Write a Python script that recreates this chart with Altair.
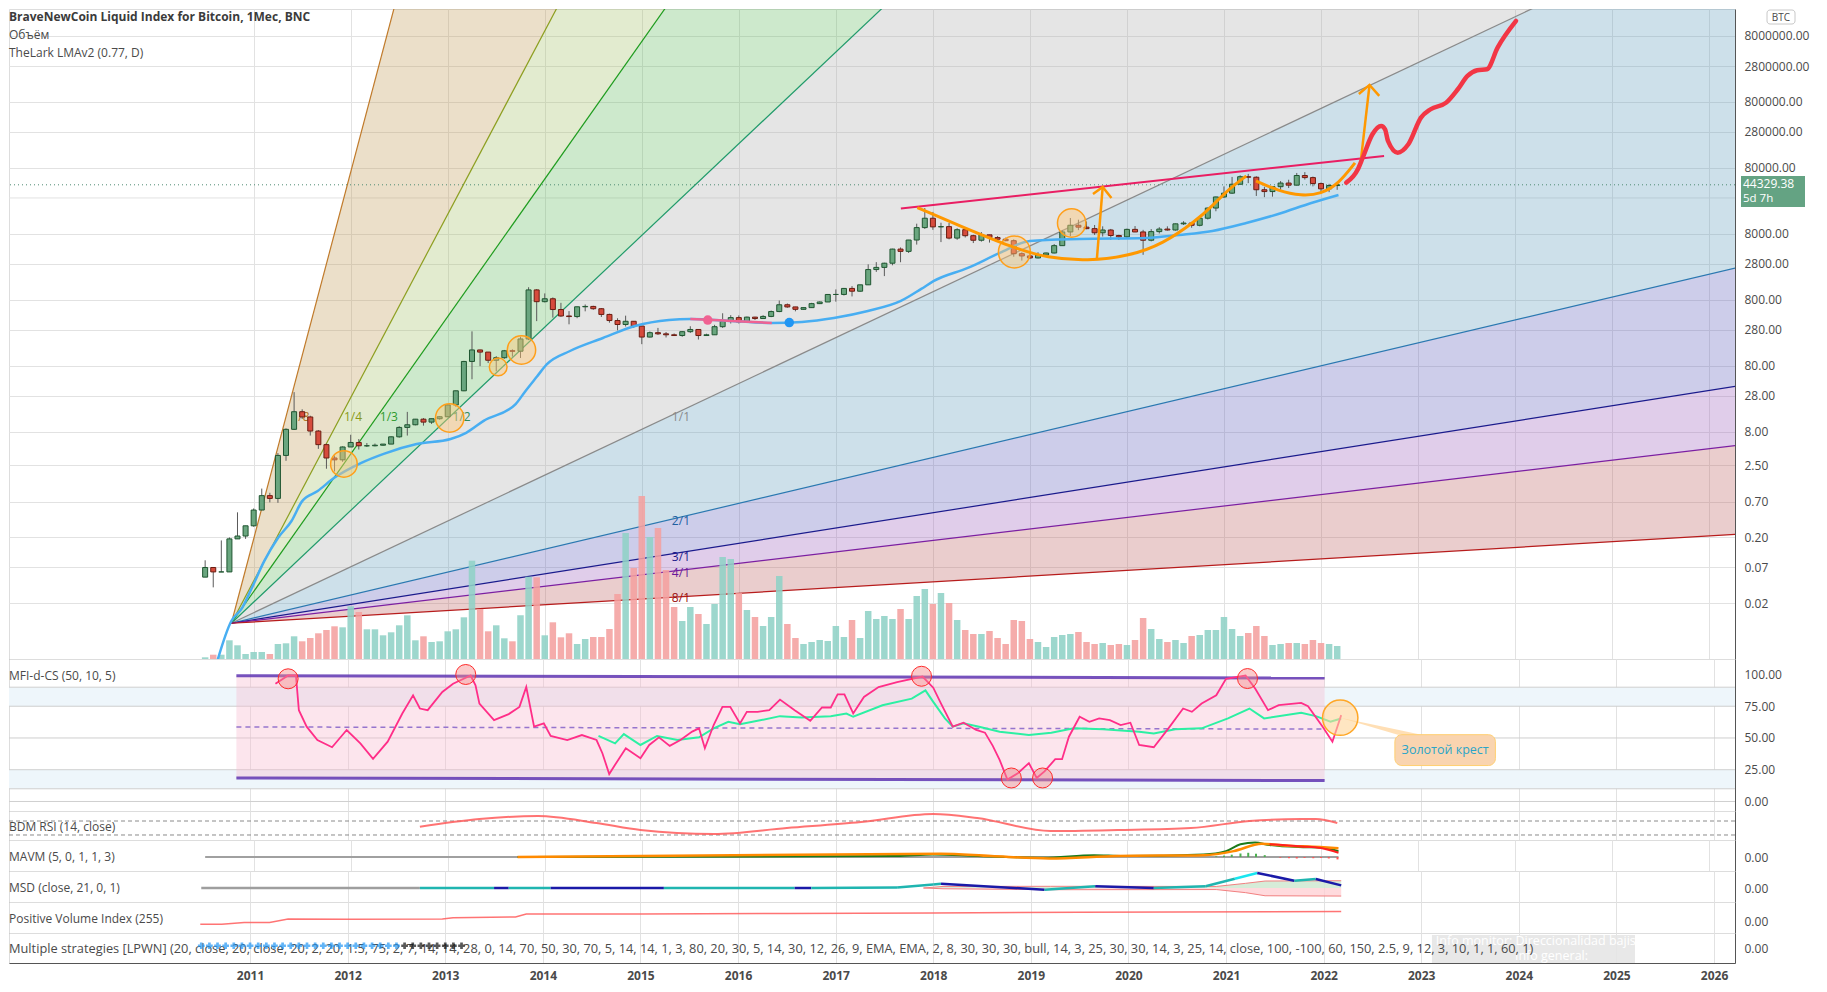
import numpy as np
import pandas as pd
import altair as alt

FONT = "Open Sans"
TXT = "#4a4a4a"
GRID = "#e2e2e2"
SEP = "#555555"
W = 1726
H_MAIN, H_MFI, H_BDM, H_MAVM, H_MSD, H_PVI, H_MS = 650, 152, 29, 31, 31, 31, 30
X_DOM = [2008.53, 2026.215]
YEARS = list(range(2011, 2027))
PRICE_DOM = [0.00287, 2.05e7]
PRICE_TICKS = [8000000, 2800000, 800000, 280000, 80000, 8000, 2800, 800,
               280, 80, 28, 8, 2.5, 0.7, 0.2, 0.07, 0.02]
HIDDEN_TICK = [28000]
LAST_PRICE = 44329.38

# ---------------- monthly candles, Jul 2010 .. Mar 2022 ----------------
c_open = [0.05, 0.07, 0.06, 0.06, 0.19, 0.21,
          0.30, 0.52, 0.86, 0.78, 3.5, 8.7, 16.1, 13.4, 8.2, 5.1, 3.2, 3.0,
          4.7, 5.5, 4.9, 4.9, 5.0, 5.2, 6.7, 9.3, 10.2, 12.4, 11.2, 12.6,
          13.5, 20.4, 33.4, 93, 139, 129, 97, 106, 135, 133, 204, 1130,
          750, 830, 570, 455, 446, 627, 635, 586, 480, 388, 338, 378,
          320, 218, 254, 244, 236, 230, 263, 284, 230, 236, 313, 378,
          430, 369, 437, 416, 448, 531, 673, 624, 574, 609, 700, 742,
          964, 965, 1190, 1080, 1350, 2300, 2480, 2870, 4700, 4340, 6450, 9950,
          13800, 10200, 10300, 6900, 9250, 7500, 6400, 7730, 7030, 6630, 6300, 4000,
          3700, 3450, 3820, 4100, 5300, 8550, 10800, 10100, 9600, 8300, 9150, 7550,
          7200, 9350, 8550, 6400, 8650, 9450, 9150, 11350, 11650, 10780, 13800, 19700,
          29000, 33100, 45200, 58800, 57700, 37300, 35000, 41500, 47100, 43800, 61300, 57000,
          46300, 38500, 43200]
c_high = [0.09, 0.07, 0.18, 0.20, 0.48, 0.30,
          0.55, 1.10, 0.95, 3.8, 9.0, 31.9, 17.5, 14.0, 8.5, 5.3, 3.5, 4.8,
          7.2, 6.2, 5.4, 5.3, 5.2, 6.8, 9.7, 16.0, 12.5, 12.9, 12.6, 13.8,
          21.0, 33.6, 95, 266, 140, 129.5, 112, 139, 142, 220, 1242, 1163,
          1000, 870, 720, 540, 630, 680, 650, 600, 493, 420, 460, 382,
          320, 265, 300, 260, 247, 268, 318, 285, 245, 334, 500, 468,
          464, 445, 442, 467, 550, 780, 704, 626, 610, 720, 755, 980,
          1150, 1210, 1290, 1350, 2760, 2980, 2920, 4760, 4980, 6470, 11400, 19700,
          17200, 11800, 11700, 9750, 9950, 7750, 8500, 7750, 7400, 7000, 6600, 4200,
          4100, 4200, 4150, 5600, 9100, 13900, 13100, 12300, 10900, 10400, 9500, 7750,
          9600, 10500, 9200, 9450, 10100, 10400, 11450, 12450, 12100, 14100, 19900, 29300,
          41900, 58300, 61700, 64900, 59600, 41300, 42200, 50500, 52900, 67000, 69000, 59100,
          48000, 45800, 45000]
c_low = [0.05, 0.035, 0.06, 0.06, 0.19, 0.19,
         0.29, 0.52, 0.68, 0.67, 2.9, 8.5, 12.5, 7.0, 4.4, 2.2, 2.0, 2.8,
         4.7, 4.3, 4.7, 4.8, 4.9, 5.2, 6.5, 7.0, 10.0, 9.9, 10.5, 12.2,
         13.3, 19.1, 33, 50, 79, 88, 66, 102, 110, 105, 196, 380,
         730, 430, 440, 340, 421, 535, 564, 440, 360, 275, 315, 300,
         170, 215, 235, 215, 226, 220, 252, 200, 226, 236, 300, 350,
         350, 366, 396, 414, 436, 520, 606, 535, 570, 604, 690, 740,
         750, 930, 900, 1060, 1340, 2120, 1830, 2670, 2970, 4100, 5500, 9500,
         9200, 6000, 6600, 6500, 7050, 5800, 6100, 5900, 6100, 6200, 3600, 3150,
         3350, 3400, 3700, 4050, 5300, 7400, 9100, 9400, 7700, 7300, 6500, 6450,
         6900, 8500, 3850, 6150, 8100, 8950, 8950, 10900, 9900, 10400, 13200, 17600,
         28100, 32300, 45000, 47000, 30000, 28800, 29300, 37300, 39600, 43300, 53300, 42000,
         32900, 34300, 37200]
c_close = [0.07, 0.06, 0.06, 0.19, 0.21, 0.30,
           0.52, 0.86, 0.78, 3.5, 8.7, 16.1, 13.4, 8.2, 5.1, 3.2, 3.0, 4.7,
           5.5, 4.9, 4.9, 5.0, 5.2, 6.7, 9.3, 10.2, 12.4, 11.2, 12.6, 13.5,
           20.4, 33.4, 93, 139, 129, 97, 106, 135, 133, 204, 1130, 750,
           830, 570, 455, 446, 627, 635, 586, 480, 388, 338, 378, 320,
           218, 254, 244, 236, 230, 263, 284, 230, 236, 313, 378, 430,
           369, 437, 416, 448, 531, 673, 624, 574, 609, 700, 742, 964,
           965, 1190, 1080, 1350, 2300, 2480, 2870, 4700, 4340, 6450, 9950, 13800,
           10200, 10300, 6900, 9250, 7500, 6400, 7730, 7030, 6630, 6300, 4000, 3700,
           3450, 3820, 4100, 5300, 8550, 10800, 10100, 9600, 8300, 9150, 7550, 7200,
           9350, 8550, 6400, 8650, 9450, 9150, 11350, 11650, 10780, 13800, 19700, 29000,
           33100, 45200, 58800, 57700, 37300, 35000, 41500, 47100, 43800, 61300, 57000, 46300,
           38500, 43200, 44329.38]
# relative volume
volume = [1.7, 4.3, 4.3, 18.7, 13.7, 5,
          7, 7, 5, 15, 15.7, 22.7, 17.7, 21, 25.7, 29, 32.7, 31.7,
          52.7, 47, 29.7, 29.7, 23.7, 26.7, 33.7, 43.7, 18.7, 22.7, 17, 17.7,
          27.7, 29.7, 41.7, 98.3, 50, 27.7, 33.7, 20.7, 17.7, 43.7, 82.3, 81.7,
          23.7, 36.7, 21.7, 25.7, 15, 20, 22, 22, 30, 65, 126, 91,
          163, 122, 131, 89, 52, 38, 52, 45, 35, 55, 102, 100,
          66, 49, 42, 33, 42, 83, 35, 21, 15, 17, 19, 18,
          33, 22, 39, 21, 48, 40, 43, 40, 50, 40, 63, 70,
          55, 66, 56, 39, 29, 25, 25, 28, 21, 15, 39, 38,
          20, 17, 12, 22, 24, 25, 27, 17, 15, 16, 14, 15,
          14, 19, 41, 30, 20, 17, 19, 16, 23, 24, 29, 29,
          42, 30, 23, 26, 33, 23, 14, 15, 16, 16, 15, 19,
          16, 15, 13]

# ---------------- Gann fan ----------------
FAN_T0, FAN_P0, FAN_SLOPE, FAN_T1 = 2010.77, 0.01, 0.695, 2026.3
fan_names = ["1/8", "1/4", "1/3", "1/2", "1/1", "2/1", "3/1", "4/1", "8/1"]
fan_mult = [8, 4, 3, 2, 1, 1 / 2, 1 / 3, 1 / 4, 1 / 8]
fan_line = ["#c07a2a", "#8c9e1f", "#1e9c1e", "#1f9a6a", "#8a8a8a", "#2a78b0", "#1a1a8c", "#7b1fa2", "#b71c1c"]
fan_fill = ["#bc944b", "#9ebc5f", "#58b655", "#a8a8a8", "#5898b9", "#5858b9", "#9858b9", "#b95858"]
fan_lab_t = [2011.39, 2011.93, 2012.30, 2013.05, 2015.31, 2015.31, 2015.31, 2015.31, 2015.31]
fan_lab_p = [13.4, 13.4, 13.4, 13.4, 13.4, 0.36, 0.102, 0.058, 0.0245]
fan_lab_c = ["#b07020", "#8a9a1a", "#2e9a2e", "#2e8b57", "#8a8a8a", "#1e5fa0", "#1a1a8a", "#6a1a9a", "#9a1010"]

# ---------------- LMA line ----------------
lma_t = [2010.60, 2010.77, 2010.88, 2010.98, 2011.11, 2011.25, 2011.39, 2011.50, 2011.66, 2011.83,
         2012.11, 2012.34, 2012.68, 2013.03, 2013.19, 2013.37, 2013.70, 2013.80, 2013.92, 2014.02,
         2014.26, 2014.60, 2014.93, 2015.28, 2015.50, 2015.93, 2016.34, 2016.65, 2016.98, 2017.33,
         2017.67, 2017.88, 2018.01, 2018.36, 2018.69, 2019.00, 2019.51, 2020.20, 2020.54, 2020.88,
         2021.23, 2021.56, 2021.90, 2022.18]
lma_p = [0.002, 0.0108, 0.017, 0.034, 0.088, 0.196, 0.355, 0.71, 1.01, 1.6,
         2.7, 3.7, 5.2, 6.2, 7.7, 11.7, 21, 33, 55, 84,
         134, 211, 321, 396, 410, 383, 356, 370, 425, 542,
         769, 1170, 1546, 2432, 4110, 6250, 6700, 6930, 7700, 8850,
         11700, 16000, 23500, 31100]
lma_pink_t = [2015.50, 2015.68, 2015.93, 2016.34]
lma_pink_p = [410, 398, 383, 356]
dot_t, dot_p, dot_c = [2015.68, 2016.52], [395, 362], ["#f06292", "#2196f3"]

# ---------------- hand drawings on the price pane ----------------
circ_t = [2011.93, 2013.02, 2013.52, 2013.76, 2018.84, 2019.43]
circ_p = [2.6, 12.9, 76.7, 139, 4250, 11700]
circ_r = [15, 16, 10, 16, 18, 16]
trend_t, trend_p = [2017.67, 2022.65], [19450, 121600]
cup1_t = [2017.84, 2018.28, 2018.83, 2019.18, 2019.59, 2020.03, 2020.37, 2020.71, 2020.88, 2021.05, 2021.23]
cup1_p = [19950, 10540, 4900, 3450, 3100, 3700, 5620, 12560, 21200, 38400, 60400]
cup2_t = [2021.33, 2021.56, 2021.80, 2022.00, 2022.18, 2022.35]
cup2_p = [50700, 35800, 30100, 32200, 45700, 95100]
arrow_t = [[2019.69, 2019.75], [2019.65, 2019.75, 2019.84], [2022.41, 2022.50], [2022.39, 2022.50, 2022.60]]
arrow_p = [[3330, 41100], [32200, 41100, 28000], [102100, 1449000], [1057000, 1449000, 986000]]
wave_t = [2022.26, 2022.38, 2022.43, 2022.53, 2022.62, 2022.66, 2022.69, 2022.79, 2022.90, 2023.03,
          2023.13, 2023.29, 2023.41, 2023.51, 2023.61, 2023.71, 2023.82, 2024.01]
wave_p = [47800, 76200, 114300, 258800, 346000, 308000, 204600, 136100, 182400, 462000,
          619000, 780000, 1245000, 1980000, 2415000, 2500000, 5320000, 13500000]

# ---------------- MFI-d-CS pane ----------------
MFI_DOM = [-7.5, 112.2]
mfi_t = [2011.26, 2011.39, 2011.47, 2011.50, 2011.58, 2011.69, 2011.84, 2011.99, 2012.13, 2012.26,
         2012.41, 2012.56, 2012.67, 2012.74, 2012.82, 2012.97, 2013.08, 2013.26, 2013.31, 2013.35,
         2013.50, 2013.65, 2013.76, 2013.83, 2013.91, 2014.01, 2014.08, 2014.25, 2014.40, 2014.55,
         2014.61, 2014.68, 2014.74, 2014.85, 2015.00, 2015.09, 2015.19, 2015.30, 2015.41, 2015.53,
         2015.60, 2015.66, 2015.75, 2015.84, 2015.92, 2016.02, 2016.09, 2016.20, 2016.32, 2016.43,
         2016.58, 2016.74, 2016.86, 2016.95, 2017.02, 2017.09, 2017.18, 2017.29, 2017.44, 2017.63,
         2017.89, 2018.00, 2018.08, 2018.20, 2018.31, 2018.44, 2018.53, 2018.61, 2018.68, 2018.76,
         2018.87, 2018.98, 2019.06, 2019.14, 2019.25, 2019.32, 2019.39, 2019.50, 2019.60, 2019.70,
         2019.81, 2019.92, 2020.02, 2020.11, 2020.26, 2020.41, 2020.56, 2020.65, 2020.75, 2020.90,
         2021.00, 2021.20, 2021.30, 2021.43, 2021.54, 2021.77, 2021.84, 2021.99, 2022.09, 2022.18]
mfi_v = [92.7, 99.2, 99.2, 71.9, 58.9, 48.4, 42.7, 56.3, 45.8, 33.6,
         47.1, 69.3, 83.6, 73.2, 71.9, 86.2, 92.7, 99.2, 91.4, 77.1,
         64.1, 68.8, 74.5, 90.1, 58.9, 61.5, 51.6, 48.4, 52.3, 48.4,
         38.0, 21.6, 28.9, 41.9, 34.1, 44.5, 50.5, 43.8, 48.4, 55.0,
         57.6, 41.9, 60.2, 74.5, 74.5, 61.5, 70.6, 70.6, 71.9, 80.2,
         71.9, 63.5, 74.0, 74.0, 84.4, 84.4, 69.3, 82.3, 90.1, 94.0,
         98.4, 89.6, 77.1, 58.9, 62.0, 56.3, 54.2, 43.8, 32.8, 17.2,
         22.4, 30.2, 18.5, 23.7, 33.3, 33.3, 51.0, 66.7, 62.8, 65.4,
         64.1, 60.2, 62.0, 44.5, 42.7, 57.6, 73.2, 70.6, 77.1, 83.6,
         96.6, 99.2, 88.8, 71.9, 75.8, 77.6, 75.0, 58.9, 47.1, 68.0]
sig_t = [2014.57, 2014.74, 2014.83, 2015.00, 2015.17, 2015.38, 2015.60, 2015.75, 2015.90, 2016.02,
         2016.20, 2016.43, 2016.65, 2016.95, 2017.11, 2017.18, 2017.48, 2017.78, 2017.92, 2018.00,
         2018.12, 2018.20, 2018.31, 2018.47, 2018.68, 2018.98, 2019.21, 2019.44, 2019.74, 2020.11,
         2020.26, 2020.48, 2020.75, 2021.02, 2021.24, 2021.39, 2021.77, 2021.92, 2022.07, 2022.18]
sig_v = [51.6, 45.8, 53.1, 44.5, 51.6, 48.4, 50.5, 57.6, 62.8, 60.9,
         63.5, 67.2, 66.1, 67.2, 69.3, 66.7, 75.8, 81.0, 87.5, 78.4,
         65.4, 58.9, 61.5, 58.9, 54.9, 52.3, 54.2, 57.6, 56.8, 54.9,
         53.6, 56.8, 57.6, 65.4, 73.2, 65.4, 69.8, 67.2, 62.8, 65.4]
mfi_levels = [90, 75, 50, 25, 10, 0]
zone_lo, zone_hi = [75, 10], [90, 25]
chan_t, chan_hi, chan_lo, chan_mid = [2010.86, 2022.01], [99.1, 97.2], [18.5, 16.5], [58.7, 57.0]
ring_t = [2011.39, 2013.21, 2017.88, 2018.80, 2019.12, 2021.22]
ring_v = [96.6, 100, 98.6, 18.5, 18.5, 96.8]
gold_t, gold_v = 2022.17, 66
box_t, box_v = [2022.73, 2023.76], [52.6, 28.3]
wedge_base_t = [2022.76, 2023.00]

# ---------------- small panes ----------------
BDM_DOM = [15.7, 98.6]
bdm_t = [2012.74, 2013.35, 2013.95, 2014.55, 2015.0, 2015.75, 2016.5, 2017.26, 2018.0, 2018.45,
         2019.2, 2019.89, 2020.64, 2021.24, 2021.77, 2021.92, 2022.14]
bdm_v = [53.7, 75.7, 84.3, 64.3, 44.3, 32.9, 50, 67.1, 90, 78.6, 41.4, 44.3, 50, 70, 75.7, 75.7, 64.3]

MAV_DOM = [-0.59, 0.72]
mav_g_t = [2013.72, 2017.63, 2018.0, 2018.46, 2019.14, 2019.66, 2019.96, 2020.79, 2021.02, 2021.17,
           2021.32, 2021.47, 2021.77, 2021.99, 2022.18]
mav_g_v = [0, 0.04, 0.11, 0.04, -0.03, 0.08, 0.04, 0.11, 0.25, 0.54, 0.61, 0.51, 0.42, 0.40, 0.25]
mav_o_t = [2013.72, 2018.08, 2018.6, 2019.2, 2019.89, 2020.79, 2021.1, 2021.39, 2021.62, 2021.99, 2022.18]
mav_o_v = [0, 0.14, 0.04, -0.06, 0.04, 0.08, 0.25, 0.56, 0.49, 0.42, 0.37]
mav_r_t, mav_r_v = [2021.47, 2021.8, 2022.0, 2022.18], [0.54, 0.45, 0.38, 0.18]
mav_h_t = [2020.92, 2021.0, 2021.08, 2021.17, 2021.25, 2021.33, 2021.42, 2021.58, 2021.67, 2021.75,
           2021.83, 2021.92, 2022.0, 2022.08, 2022.17]
mav_h_v = [0.03, 0.06, 0.1, 0.15, 0.18, 0.14, 0.08, -0.03, -0.05, -0.06, -0.04, -0.05, -0.04, -0.06, -0.1]

MSD_DOM = [-0.903, 1.097]
msd_t = [2010.5, 2012.74, 2013.5, 2013.65, 2014.08, 2015.24, 2016.58, 2016.75, 2017.63, 2018.0,
         2018.08, 2019.14, 2019.66, 2020.26, 2020.79, 2021.09, 2021.32, 2021.7, 2021.92, 2022.18]
msd_v = [0, 0, 0, 0, 0, 0, 0, 0, 0.04, 0.22, 0.28, -0.11, 0.11, 0, 0.11, 0.6, 0.97, 0.47, 0.58, 0.17]
msd_c = ["#9e9e9e", "#1fb5b0", "#1a1aa8", "#1fb5b0", "#1a1aa8", "#1fb5b0", "#1a1aa8", "#1fb5b0",
         "#1fb5b0", "#1fb5b0", "#1a1aa8", "#1fb5b0", "#1a1aa8", "#1fb5b0", "#1fb5b0", "#19e6f0",
         "#1a1aa8", "#1fb5b0", "#1a1aa8", "#1a1aa8"]
msd_b_t = [2017.9, 2018.1, 2019.2, 2020.9, 2021.2, 2021.4, 2022.18]
msd_b_hi = [0.0, 0.1, 0.11, 0.1, 0.3, 0.45, 0.47]
msd_b_lo = [0.0, -0.05, -0.11, -0.1, -0.3, -0.5, -0.52]

PVI_DOM = [-37.1, 62.9]
pvi_t = [2010.49, 2010.71, 2010.94, 2011.2, 2011.39, 2011.99, 2012.97, 2013.08, 2013.72, 2013.83,
         2015.0, 2016.5, 2018.0, 2019.5, 2022.18]
pvi_v = [-9, -9, -3, -3, 8, 7.5, 8, 12, 14.5, 24, 24, 26, 27.5, 30, 32]

MS_DOM = [-1, 1]
ms_text = ("Multiple strategies [LPWN] (20, close, 20, close, 20, 2, 20, 1.5, 75, 2, 7, 14, 14, 28, 0, 14, "
           "70, 50, 30, 70, 5, 14, 14, 1, 3, 80, 20, 30, 5, 14, 30, 12, 26, 9, EMA, EMA, 2, 8, 30, 30, 30, "
           "bull, 14, 3, 25, 30, 30, 14, 3, 25, 14, close, 100, -100, 60, 150, 2.5, 9, 12, 3, 10, 1, 1, 60, 1)")
ms_mark_t = [2010.5 + i / 12 for i in range(33)]
ms_mark_c = ["#2196f3"] * 25 + ["#111111"] * 8
info_t, info_v = [2023.11, 2025.19], [0.87, -1.0]

# ======================= helpers =======================
XS = alt.Scale(domain=X_DOM, nice=False, zero=False)


def xax(show=False):
    kw = dict(values=YEARS, grid=True, gridColor=GRID, gridWidth=1, ticks=False, domain=True,
              domainColor=SEP, domainWidth=1, title=None)
    if show:
        kw.update(format="d", labels=True, labelFont=FONT, labelFontSize=12, labelFontWeight="bold",
                  labelColor=TXT, labelPadding=7)
    else:
        kw.update(labels=False)
    return alt.Axis(**kw)


def yax(values, labels=True, grid=False):
    return alt.Axis(orient="right", values=values, format=".2f", labels=labels, grid=grid, gridColor=GRID,
                    ticks=False, domain=True, domainColor=SEP, labelFont=FONT, labelFontSize=12,
                    labelColor=TXT, labelPadding=9, title=None)


def X(ax, f="t"):
    return alt.X(f"{f}:Q", scale=XS, axis=ax)


def Y(f, dom, typ="linear", ax=None):
    return alt.Y(f"{f}:Q", scale=alt.Scale(type=typ, domain=dom, nice=False, zero=False), axis=ax, stack=None)


def label(text, x, y, size=12, color=TXT, weight="normal", align="left"):
    return alt.Chart(pd.DataFrame({"s": [text]})).mark_text(
        align=align, baseline="middle", font=FONT, fontSize=size, fontWeight=weight, color=color
    ).encode(x=alt.value(x), y=alt.value(y), text="s:N")


def fan_price(m, t):
    return FAN_P0 * 10 ** (FAN_SLOPE * m * (t - FAN_T0))


# ======================= main price pane =======================
axm = xax()
PY = lambda f, ax=None: Y(f, PRICE_DOM, "log", ax)

cd = pd.DataFrame({"t": [2010.5 + i / 12 for i in range(len(c_open))], "o": c_open, "h": c_high,
                   "l": c_low, "c": c_close, "vol": volume})
up = cd["c"] >= cd["o"]
cd["body"] = np.where(up, "#6aa67f", "#d64b3c")
cd["edge"] = np.where(up, "#1f5530", "#6b1d12")
cd["vcol"] = np.where(up, "#8fd1c6", "#f4a09f")

band_rows, line_rows = [], []
for i in range(8):
    for t in (FAN_T0, FAN_T1):
        band_rows.append({"t": t, "hi": fan_price(fan_mult[i], t), "lo": fan_price(fan_mult[i + 1], t),
                          "band": fan_names[i], "fill": fan_fill[i]})
for n, m, c in zip(fan_names, fan_mult, fan_line):
    for t in (FAN_T0, FAN_T1):
        line_rows.append({"t": t, "p": fan_price(m, t), "name": n, "col": c})

extra_grid = alt.Chart(pd.DataFrame({"p": HIDDEN_TICK})).mark_rule(color=GRID, strokeWidth=1).encode(y=PY("p"))
bands = alt.Chart(pd.DataFrame(band_rows)).mark_area(clip=True, opacity=0.3).encode(
    x=X(axm), y=PY("hi"), y2=alt.Y2("lo"), fill=alt.Fill("fill:N", scale=None), detail="band:N")
fanlines = alt.Chart(pd.DataFrame(line_rows)).mark_line(clip=True, strokeWidth=1.2).encode(
    x=X(axm), y=PY("p"), color=alt.Color("col:N", scale=None), detail="name:N")
fanlab = alt.Chart(pd.DataFrame({"t": fan_lab_t, "p": fan_lab_p, "s": fan_names, "col": fan_lab_c})).mark_text(
    align="left", baseline="middle", font=FONT, fontSize=12).encode(
    x=X(axm), y=PY("p"), text="s:N", color=alt.Color("col:N", scale=None))
vol = alt.Chart(cd).mark_bar(size=6.5, opacity=0.88).encode(
    x=X(axm), y=alt.Y("vol:Q", scale=alt.Scale(domain=[0, H_MAIN], nice=False), axis=None),
    color=alt.Color("vcol:N", scale=None))
pline = alt.Chart(pd.DataFrame({"p": [LAST_PRICE]})).mark_rule(
    strokeDash=[1, 3], color="#4d8a73", strokeWidth=1).encode(y=PY("p"))
wicks = alt.Chart(cd).mark_rule(color="#5a5a5a", strokeWidth=1, clip=True).encode(
    x=X(axm), y=PY("l", yax(PRICE_TICKS, grid=True)), y2=alt.Y2("h"))
bodies = alt.Chart(cd).mark_bar(size=5, strokeWidth=1, clip=True).encode(
    x=X(axm), y=PY("o"), y2=alt.Y2("c"), fill=alt.Fill("body:N", scale=None),
    stroke=alt.Stroke("edge:N", scale=None))
lma = alt.Chart(pd.DataFrame({"t": lma_t, "p": lma_p})).mark_line(
    clip=True, strokeWidth=2.5, color="#48aef2", interpolate="monotone").encode(x=X(axm), y=PY("p"))
lma_pink = alt.Chart(pd.DataFrame({"t": lma_pink_t, "p": lma_pink_p})).mark_line(
    clip=True, strokeWidth=2.5, color="#f06292", interpolate="monotone").encode(x=X(axm), y=PY("p"))
dots = alt.Chart(pd.DataFrame({"t": dot_t, "p": dot_p, "col": dot_c})).mark_circle(size=90, opacity=1).encode(
    x=X(axm), y=PY("p"), color=alt.Color("col:N", scale=None))
circles = alt.Chart(pd.DataFrame({"t": circ_t, "p": circ_p, "sz": [np.pi * r * r for r in circ_r]})).mark_circle(
    color="#ffc878", fillOpacity=0.45, stroke="#ff9f1a", strokeWidth=1.5, strokeOpacity=1).encode(
    x=X(axm), y=PY("p"), size=alt.Size("sz:Q", scale=None))
trend = alt.Chart(pd.DataFrame({"t": trend_t, "p": trend_p})).mark_line(
    color="#e91e63", strokeWidth=2).encode(x=X(axm), y=PY("p"))
cup_df = pd.DataFrame({"t": cup1_t + cup2_t, "p": cup1_p + cup2_p,
                       "id": ["a"] * len(cup1_t) + ["b"] * len(cup2_t)})
cups = alt.Chart(cup_df).mark_line(color="#ff9800", strokeWidth=3, interpolate="basis").encode(
    x=X(axm), y=PY("p"), detail="id:N")
arr_rows = [{"t": t, "p": p, "id": k} for k, (ts, ps) in enumerate(zip(arrow_t, arrow_p)) for t, p in zip(ts, ps)]
arrows = alt.Chart(pd.DataFrame(arr_rows)).mark_line(color="#ff9800", strokeWidth=2.5).encode(
    x=X(axm), y=PY("p"), detail="id:N")
wave = alt.Chart(pd.DataFrame({"t": wave_t, "p": wave_p})).mark_line(
    color="#f23645", strokeWidth=4.5, strokeCap="round", strokeJoin="round", interpolate="monotone").encode(
    x=X(axm), y=PY("p"))
tag_shape = "M-1,-0.275L1,-0.275L1,0.694L-1,0.694Z"
tag = alt.Chart(pd.DataFrame({"p": [LAST_PRICE]})).mark_point(
    shape=tag_shape, filled=True, color="#64a383", opacity=1, size=4096, clip=False).encode(
    x=alt.value(W + 38), y=PY("p"))
tag_t1 = alt.Chart(pd.DataFrame({"p": [LAST_PRICE], "s": ["44329.38"]})).mark_text(
    align="left", baseline="middle", font=FONT, fontSize=12, color="white", dy=-1).encode(
    x=alt.value(W + 8), y=PY("p"), text="s:N")
tag_t2 = alt.Chart(pd.DataFrame({"p": [LAST_PRICE], "s": ["5d 7h"]})).mark_text(
    align="left", baseline="middle", font=FONT, fontSize=11.5, color="white", dy=14).encode(
    x=alt.value(W + 8), y=PY("p"), text="s:N")
btc_box = alt.Chart(pd.DataFrame({"s": ["BTC"]})).mark_rect(
    fill="white", stroke="#c8c8c8", strokeWidth=1, cornerRadius=3).encode(
    x=alt.value(W + 32), x2=alt.value(W + 60), y=alt.value(1), y2=alt.value(15))
btc_txt = label("BTC", W + 46, 8.5, size=10, align="center")

main = alt.layer(
    extra_grid, bands, fanlines, fanlab, vol, pline, wicks, bodies, lma, lma_pink, dots, circles, trend, cups,
    arrows, wave,
    label("BraveNewCoin Liquid Index for Bitcoin, 1Мес, BNC", 0, 8, weight="bold", color="#3b3b3b"),
    label("Объём", 0, 25.5), label("TheLark LMAv2 (0.77, D)", 0, 43.5),
    tag, tag_t1, tag_t2, btc_box, btc_txt,
).resolve_scale(y="independent").properties(width=W, height=H_MAIN)

# ======================= MFI pane =======================
axf = xax()
FY = lambda f, ax=None: Y(f, MFI_DOM, "linear", ax)
zones = alt.Chart(pd.DataFrame({"a": [X_DOM[0]] * 2, "b": [X_DOM[1]] * 2, "lo": zone_lo, "hi": zone_hi})).mark_rect(
    color="#eef6fb").encode(x=X(axf, "a"), x2=alt.X2("b"), y=FY("lo"), y2=alt.Y2("hi"))
levels = alt.Chart(pd.DataFrame({"v": mfi_levels})).mark_rule(color="#cfcfcf", strokeWidth=1).encode(y=FY("v"))
chan = alt.Chart(pd.DataFrame({"t": chan_t, "hi": chan_hi, "lo": chan_lo})).mark_area(
    color="#f8bbd0", opacity=0.38).encode(x=X(axf), y=FY("hi"), y2=alt.Y2("lo"))
chan_lines_df = pd.DataFrame({"t": chan_t * 2, "v": chan_hi + chan_lo, "k": ["h", "h", "l", "l"]})
chan_lines = alt.Chart(chan_lines_df).mark_line(color="#5e35b1", strokeWidth=3, opacity=0.85).encode(
    x=X(axf), y=FY("v"), detail="k:N")
mid = alt.Chart(pd.DataFrame({"t": chan_t, "v": chan_mid})).mark_line(
    color="#9575cd", strokeDash=[5, 4], strokeWidth=1.5).encode(x=X(axf), y=FY("v"))
sig = alt.Chart(pd.DataFrame({"t": sig_t, "v": sig_v})).mark_line(color="#2cf0a3", strokeWidth=2).encode(
    x=X(axf), y=FY("v"))
mfi = alt.Chart(pd.DataFrame({"t": mfi_t, "v": mfi_v})).mark_line(color="#ff2e88", strokeWidth=1.8).encode(
    x=X(axf), y=FY("v", yax([0, 25, 50, 75, 100])))
rings = alt.Chart(pd.DataFrame({"t": ring_t, "v": ring_v})).mark_circle(
    size=400, color="#f48c8c", fillOpacity=0.45, stroke="#ff2a2a", strokeWidth=1, strokeOpacity=1).encode(
    x=X(axf), y=FY("v"))
wb, wc = wedge_base_t
w_top_mid = gold_v + (box_v[0] - gold_v) * (wb - gold_t) / (wc - gold_t)
wedge = alt.Chart(pd.DataFrame({"t": [gold_t, wb, wc], "hi": [gold_v, w_top_mid, box_v[0]],
                                "lo": [gold_v, box_v[0], box_v[0]]})).mark_area(
    color="#ffd9a8", opacity=0.85).encode(x=X(axf), y=FY("hi"), y2=alt.Y2("lo"))
gold = alt.Chart(pd.DataFrame({"t": [gold_t], "v": [gold_v]})).mark_circle(
    size=1250, color="#ffd59a", fillOpacity=0.6, stroke="#ffa726", strokeWidth=1.5, strokeOpacity=1).encode(
    x=X(axf), y=FY("v"))
box = alt.Chart(pd.DataFrame({"a": [box_t[0]], "b": [box_t[1]], "hi": [box_v[0]], "lo": [box_v[1]]})).mark_rect(
    color="#f9d4b0", stroke="#ffcf70", strokeWidth=1, cornerRadius=7).encode(
    x=X(axf, "a"), x2=alt.X2("b"), y=FY("hi"), y2=alt.Y2("lo"))
box_txt = alt.Chart(pd.DataFrame({"t": [sum(box_t) / 2], "v": [sum(box_v) / 2], "s": ["Золотой крест"]})).mark_text(
    align="center", baseline="middle", font=FONT, fontSize=12.5, color="#2aa5c8").encode(
    x=X(axf), y=FY("v"), text="s:N")
mfi_pane = alt.layer(
    zones, levels, chan, chan_lines, mid, sig, mfi, rings, wedge, gold, box, box_txt,
    label("MFI-d-CS (50, 10, 5)", 0, 17),
).resolve_scale(y="independent").properties(width=W, height=H_MFI)

# ======================= BDM RSI =======================
axb = xax()
BY = lambda f, ax=None: Y(f, BDM_DOM, "linear", ax)
bdm_rules = alt.Chart(pd.DataFrame({"v": [70, 30]})).mark_rule(
    color="#8a8a8a", strokeDash=[4, 3], strokeWidth=1).encode(y=BY("v"))
bdm_line = alt.Chart(pd.DataFrame({"t": bdm_t, "v": bdm_v})).mark_line(
    color="#ff5a5a", strokeWidth=2, interpolate="monotone", opacity=0.85).encode(
    x=X(axb), y=BY("v", yax([], labels=False)))
bdm_pane = alt.layer(bdm_rules, bdm_line, label("BDM RSI (14, close)", 0, 16)).resolve_scale(
    y="independent").properties(width=W, height=H_BDM)

# ======================= MAVM =======================
axv = xax()
VY = lambda f, ax=None: Y(f, MAV_DOM, "linear", ax)
mav_zero = alt.Chart(pd.DataFrame({"t": [2010.5, 2022.18], "v": [0, 0]})).mark_line(
    color="#a0a0a0", strokeWidth=2).encode(x=X(axv), y=VY("v", yax([0])))
hist_df = pd.DataFrame({"t": mav_h_t, "v": mav_h_v})
hist_df["col"] = np.where(hist_df["v"] >= 0, "#4caf50", "#ff5252")
mav_hist = alt.Chart(hist_df).mark_bar(size=2).encode(
    x=X(axv), y=VY("v"), color=alt.Color("col:N", scale=None))
mav_g = alt.Chart(pd.DataFrame({"t": mav_g_t, "v": mav_g_v})).mark_line(
    color="#1b7a1b", strokeWidth=2, interpolate="monotone").encode(x=X(axv), y=VY("v"))
mav_o = alt.Chart(pd.DataFrame({"t": mav_o_t, "v": mav_o_v})).mark_line(
    color="#ff8a00", strokeWidth=2.5, interpolate="monotone").encode(x=X(axv), y=VY("v"))
mav_r = alt.Chart(pd.DataFrame({"t": mav_r_t, "v": mav_r_v})).mark_line(
    color="#ff2020", strokeWidth=2, interpolate="monotone").encode(x=X(axv), y=VY("v"))
mav_pane = alt.layer(mav_zero, mav_hist, mav_g, mav_o, mav_r, label("MAVM (5, 0, 1, 1, 3)", 0, 17)).resolve_scale(
    y="independent").properties(width=W, height=H_MAVM)

# ======================= MSD =======================
axs = xax()
SY = lambda f, ax=None: Y(f, MSD_DOM, "linear", ax)
bdf = pd.DataFrame({"t": msd_b_t, "hi": msd_b_hi, "lo": msd_b_lo, "z": [0] * len(msd_b_t)})
msd_pink = alt.Chart(bdf).mark_area(color="#ffcdd2", opacity=0.75).encode(x=X(axs), y=SY("z"), y2=alt.Y2("lo"))
msd_green = alt.Chart(bdf).mark_area(color="#cfe9d1", opacity=0.85).encode(x=X(axs), y=SY("hi"), y2=alt.Y2("z"))
msd_edges = alt.Chart(pd.DataFrame({"t": msd_b_t * 2, "v": msd_b_hi + msd_b_lo,
                                    "k": ["h"] * len(msd_b_t) + ["l"] * len(msd_b_t)})).mark_line(
    color="#f28080", strokeWidth=1).encode(x=X(axs), y=SY("v"), detail="k:N")
seg_rows = []
for i in range(len(msd_t) - 1):
    for j in (i, i + 1):
        seg_rows.append({"t": msd_t[j], "v": msd_v[j], "seg": i, "col": msd_c[i]})
msd_line = alt.Chart(pd.DataFrame(seg_rows)).mark_line(strokeWidth=2.5).encode(
    x=X(axs), y=SY("v", yax([0])), detail="seg:N", color=alt.Color("col:N", scale=None))
msd_pane = alt.layer(msd_pink, msd_green, msd_edges, msd_line, label("MSD (close, 21, 0, 1)", 0, 17)).resolve_scale(
    y="independent").properties(width=W, height=H_MSD)

# ======================= PVI =======================
axp = xax()
pvi_line = alt.Chart(pd.DataFrame({"t": pvi_t, "v": pvi_v})).mark_line(
    color="#ff5c5c", strokeWidth=1.5, opacity=0.85).encode(x=X(axp), y=Y("v", PVI_DOM, "linear", yax([0])))
pvi_pane = alt.layer(pvi_line, label("Positive Volume Index (255)", 0, 17)).resolve_scale(
    y="independent").properties(width=W, height=H_PVI)

# ======================= Multiple strategies =======================
axz = xax(show=True)
MY = lambda f, ax=None: Y(f, MS_DOM, "linear", ax)
info_box = alt.Chart(pd.DataFrame({"a": [info_t[0]], "b": [info_t[1]], "hi": [info_v[0]], "lo": [info_v[1]]})).mark_rect(
    color="#e6e6e6", opacity=0.9).encode(x=X(axz, "a"), x2=alt.X2("b"), y=MY("hi", yax([0])), y2=alt.Y2("lo"))
info_txt = alt.Chart(pd.DataFrame({"t": [info_t[0] + 0.04, info_t[0] + 0.85], "v": [0.45, -0.55],
                                   "s": ["Info monitor: Direccionalidad bajista", "Info general:"]})).mark_text(
    baseline="middle", font=FONT, fontSize=12.5, color="white", align="left").encode(
    x=X(axz), y=MY("v"), text="s:N")
ms_marks = alt.Chart(pd.DataFrame({"t": ms_mark_t, "v": [0.15] * len(ms_mark_t), "col": ms_mark_c})).mark_point(
    shape="cross", filled=True, size=45).encode(x=X(axz), y=MY("v"), color=alt.Color("col:N", scale=None))
ms_pane = alt.layer(info_box, info_txt, label(ms_text, 0, 16, size=12.8), ms_marks).resolve_scale(
    y="independent").properties(width=W, height=H_MS)

chart = alt.vconcat(main, mfi_pane, bdm_pane, mav_pane, msd_pane, pvi_pane, ms_pane,
                    spacing=0, bounds="flush").properties(
    padding=0).configure_view(stroke=None).configure(background="white")

chart.save("out.html", embed_options={"renderer": "svg", "actions": False})
